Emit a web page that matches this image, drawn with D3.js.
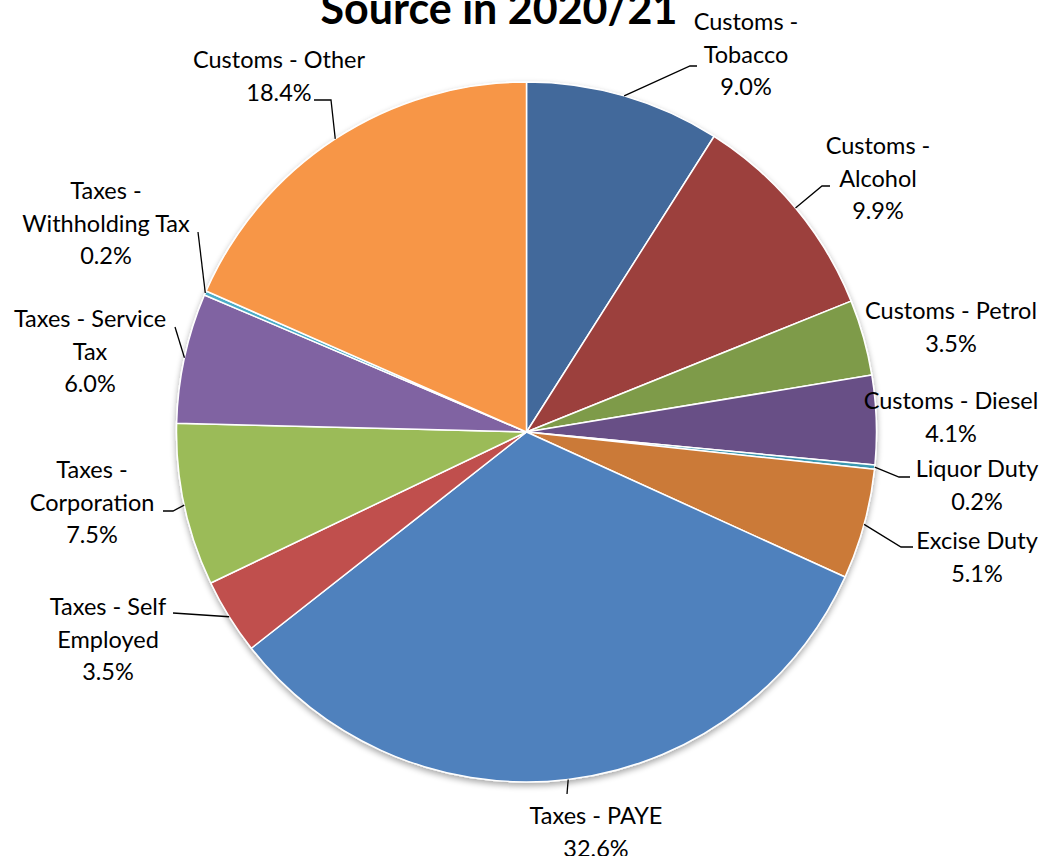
<!DOCTYPE html>
<html>
<head>
<meta charset="utf-8">
<script src="https://cdn.jsdelivr.net/npm/d3@7"></script>
<style>
  html, body { margin: 0; padding: 0; background: #fff; }
  svg { display: block; }
  text { font-family: Lato, "Open Sans", sans-serif; fill: #000; }
</style>
</head>
<body>
<svg id="chart" width="1046" height="856"></svg>
<script>
// Revenue sources, clockwise from 12 o'clock
const categories = [
  "Customs - Tobacco", "Customs - Alcohol", "Customs - Petrol", "Customs - Diesel",
  "Liquor Duty", "Excise Duty", "Taxes - PAYE", "Taxes - Self Employed",
  "Taxes - Corporation", "Taxes - Service Tax", "Taxes - Withholding Tax", "Customs - Other"
];
const shares = [9.0, 9.9, 3.5, 4.1, 0.2, 5.1, 32.6, 3.5, 7.5, 6.0, 0.2, 18.4];
const labelLines = [
  ["Customs -", "Tobacco"], ["Customs -", "Alcohol"], ["Customs - Petrol"], ["Customs - Diesel"],
  ["Liquor Duty"], ["Excise Duty"], ["Taxes - PAYE"], ["Taxes - Self", "Employed"],
  ["Taxes -", "Corporation"], ["Taxes - Service", "Tax"], ["Taxes -", "Withholding Tax"], ["Customs - Other"]
];
const colors = [
  "#43699b", "#9c3f3e", "#7e9b48", "#674f86", "#3b97b0", "#cb7a38",
  "#4f81bd", "#c0504d", "#9bbb59", "#8064a2", "#4bacc6", "#f79646"
];

// Label placement: block centre x, first line y, leader elbow points
const labelLayout = [
  { x: 746, y: 22,  leader: [[690, 66], [697, 66]] },
  { x: 878, y: 146, leader: [[822, 186], [830, 186]] },
  { x: 951, y: 311, leader: null },
  { x: 951, y: 401, leader: null },
  { x: 977, y: 469, leader: [[899, 477], [910, 477]] },
  { x: 977, y: 541, leader: [[901, 547], [913, 547]] },
  { x: 596, y: 816, leader: [[567, 794]] },
  { x: 108, y: 607, leader: [[173, 613]] },
  { x: 92,  y: 470, leader: [[173, 511], [163, 511]] },
  { x: 90,  y: 319, leader: [[175, 327]] },
  { x: 106, y: 191, leader: [[198, 232]] },
  { x: 279, y: 60,  leader: [[331, 100], [314, 100]] }
];

const cx = 526.5, cy = 432, radius = 350;
const lineHeight = 32.5;
const svg = d3.select("#chart");

const defs = svg.append("defs");
const shadow = defs.append("filter").attr("id", "shadow")
  .attr("x", "-10%").attr("y", "-10%").attr("width", "120%").attr("height", "120%");
shadow.append("feGaussianBlur").attr("in", "SourceAlpha").attr("stdDeviation", 3);
shadow.append("feOffset").attr("dx", 0).attr("dy", 3).attr("result", "off");
shadow.append("feComponentTransfer").append("feFuncA").attr("type", "linear").attr("slope", 0.35);
const merge = shadow.append("feMerge");
merge.append("feMergeNode");
merge.append("feMergeNode").attr("in", "SourceGraphic");

// Title (second line of the heading)
svg.append("text")
  .attr("x", 499).attr("y", 24)
  .attr("text-anchor", "middle")
  .style("font-size", "43px").style("font-weight", "bold")
  .text("Source in 2020/21");

const data = categories.map((c, i) => ({ name: c, value: shares[i], i }));
const pie = d3.pie().value(d => d.value).sort(null);
const arcs = pie(data);
const arc = d3.arc().innerRadius(0).outerRadius(radius);

const g = svg.append("g").attr("transform", `translate(${cx},${cy})`);
g.append("g").attr("filter", "url(#shadow)")
  .selectAll("path").data(arcs).join("path")
  .attr("d", arc)
  .attr("fill", d => colors[d.data.i])
  .attr("stroke", "#fff")
  .attr("stroke-width", 1.5)
  .attr("stroke-linejoin", "round");

// Leader lines from slice edge midpoint
const leaders = svg.append("g");
arcs.forEach((a, k) => {
  const lay = labelLayout[k];
  if (!lay.leader) return;
  const mid = (a.startAngle + a.endAngle) / 2;
  const start = [cx + radius * Math.sin(mid), cy - radius * Math.cos(mid)];
  leaders.append("path")
    .attr("d", d3.line()([start, ...lay.leader]))
    .attr("fill", "none").attr("stroke", "#000").attr("stroke-width", 1.3);
});

// Data labels
const labels = svg.append("g");
arcs.forEach((a, k) => {
  const lay = labelLayout[k];
  const lines = [...labelLines[k], d3.format(".1f")(a.data.value) + "%"];
  const t = labels.append("text")
    .attr("text-anchor", "middle")
    .style("font-size", "23.5px");
  lines.forEach((ln, j) => {
    t.append("tspan")
      .attr("x", lay.x)
      .attr("y", lay.y + j * lineHeight)
      .attr("dy", "0.35em")
      .text(ln);
  });
});
</script>
</body>
</html>
